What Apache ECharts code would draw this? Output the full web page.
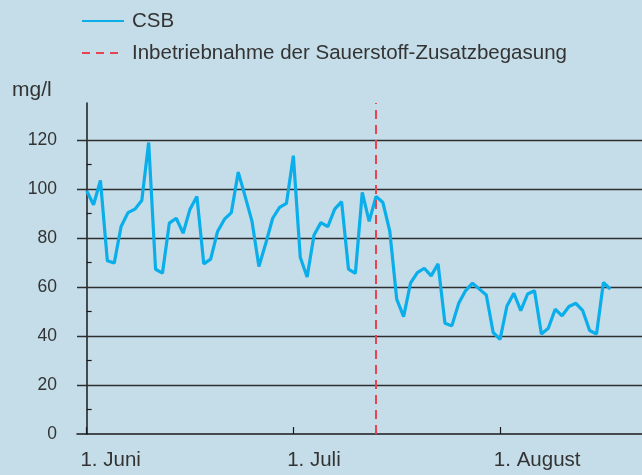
<!DOCTYPE html>
<html><head><meta charset="utf-8">
<script src="https://cdn.jsdelivr.net/npm/echarts@6/dist/echarts.min.js"></script>
<style>html,body{margin:0;padding:0;background:#c4dde8}#c{width:642px;height:475px}</style>
</head><body><div id="c"></div>
<script>
// CSB (mg/l), one value per measuring day starting 1. Juni
const csbValues = [99.2,93.5,103.4,70.7,69.7,84.6,90.3,91.7,95.2,118.9,
  67.2,65.6,86,88,81.9,91.7,96.9,69.4,71.3,82.6,
  87.6,90.3,106.8,96.9,86.7,68.3,77.8,88,92.4,94.1,
  113.5,72.1,64,81.2,86.2,84.6,91.7,94.8,67.2,65.5,
  98.5,86.7,96.9,94.4,82.6,55,47.9,61.5,65.8,67.6,
  64.5,69.4,45.2,44.1,53.3,58.5,61.5,59.1,56.7,41.4,
  38.6,52.2,57.4,50.3,57.1,58.4,40.8,43.1,50.9,48.2,
  52,53.3,50.3,42.2,40.8,61.8,59.1];
const commissioningDay = 42;
const xTickDays = [0, 30, 60];
const xTickLabels = ['1. Juni', '1. Juli', '1. August'];
const yLabelValues = [0, 20, 40, 60, 80, 100, 120];
const yMinorTicks = [10, 30, 50, 70, 90, 110];
const gridLineValues = [20, 40, 60, 80, 100, 120];
const seriesNames = ['CSB', 'Inbetriebnahme der Sauerstoff-Zusatzbegasung'];
const yUnit = 'mg/l';

const FONT = "'Liberation Sans', Arial, sans-serif";
const TXT = '#333333';
const labelShift = 0.9;

const chart = echarts.init(document.getElementById('c'), null, {renderer: 'canvas'});
chart.setOption({
  backgroundColor: '#c4dde8',
  animation: false,
  title: {text: yUnit, left: 7, top: 75, textStyle: {fontFamily: FONT, fontSize: 21, fontWeight: 'normal', color: TXT}},
  legend: {
    data: seriesNames, orient: 'vertical', left: 76, top: 3, itemWidth: 42, itemHeight: 14, itemGap: 6,
    itemStyle: {opacity: 0},
    textStyle: {fontFamily: FONT, fontSize: 20.5, color: TXT, padding: [0, 0, 0, 3], lineHeight: 26}
  },
  grid: {left: 77, right: 0, top: 103, bottom: 41, containLabel: false},
  xAxis: {
    type: 'value', min: -1.4, max: 80.6,
    axisLine: {show: true, onZero: false, lineStyle: {color: '#1a1a1a', width: 1.5}},
    axisTick: {show: true, inside: true, length: 7, customValues: xTickDays, lineStyle: {color: '#1a1a1a', width: 1.2}},
    axisLabel: {
      customValues: xTickDays.map(d => d - labelShift), align: 'left', margin: 16,
      fontFamily: FONT, fontSize: 20.5, color: TXT,
      formatter: v => {
        let best = 0;
        xTickDays.forEach((d, i) => { if (Math.abs(d - labelShift - v) < Math.abs(xTickDays[best] - labelShift - v)) best = i; });
        return xTickLabels[best];
      }
    },
    splitLine: {show: false}
  },
  yAxis: {
    type: 'value', min: 0, max: 135,
    axisLine: {show: true, lineStyle: {color: '#1a1a1a', width: 1.5}},
    axisTick: {show: true, inside: true, length: 5, customValues: yMinorTicks, lineStyle: {color: '#1a1a1a', width: 1.2}},
    axisLabel: {customValues: yLabelValues, margin: 20, fontFamily: FONT, fontSize: 17.5, color: TXT},
    splitLine: {show: false}
  },
  series: [
    {
      name: seriesNames[0], type: 'line', z: 3, symbol: 'none', smooth: false,
      lineStyle: {color: '#0aaeea', width: 3.2}, itemStyle: {color: '#0aaeea'},
      data: csbValues.map((v, i) => [i, v])
    },
    {
      name: seriesNames[1], type: 'line', symbol: 'none', data: [],
      lineStyle: {color: '#e8434f', width: 2, type: [8, 6]}, itemStyle: {color: '#e8434f'},
      markLine: {
        silent: true, symbol: 'none', label: {show: false}, z: 5,
        lineStyle: {color: '#e8434f', width: 2, type: [9, 6]},
        data: [{xAxis: commissioningDay}]
      }
    },
    {
      name: 'grid', type: 'line', data: [], symbol: 'none',
      markLine: {
        silent: true, symbol: 'none', label: {show: false}, z: 1,
        lineStyle: {color: '#2e2e2e', width: 1.3, type: 'solid'},
        data: gridLineValues.map(v => ({yAxis: v}))
      }
    }
  ]
});
</script></body></html>
